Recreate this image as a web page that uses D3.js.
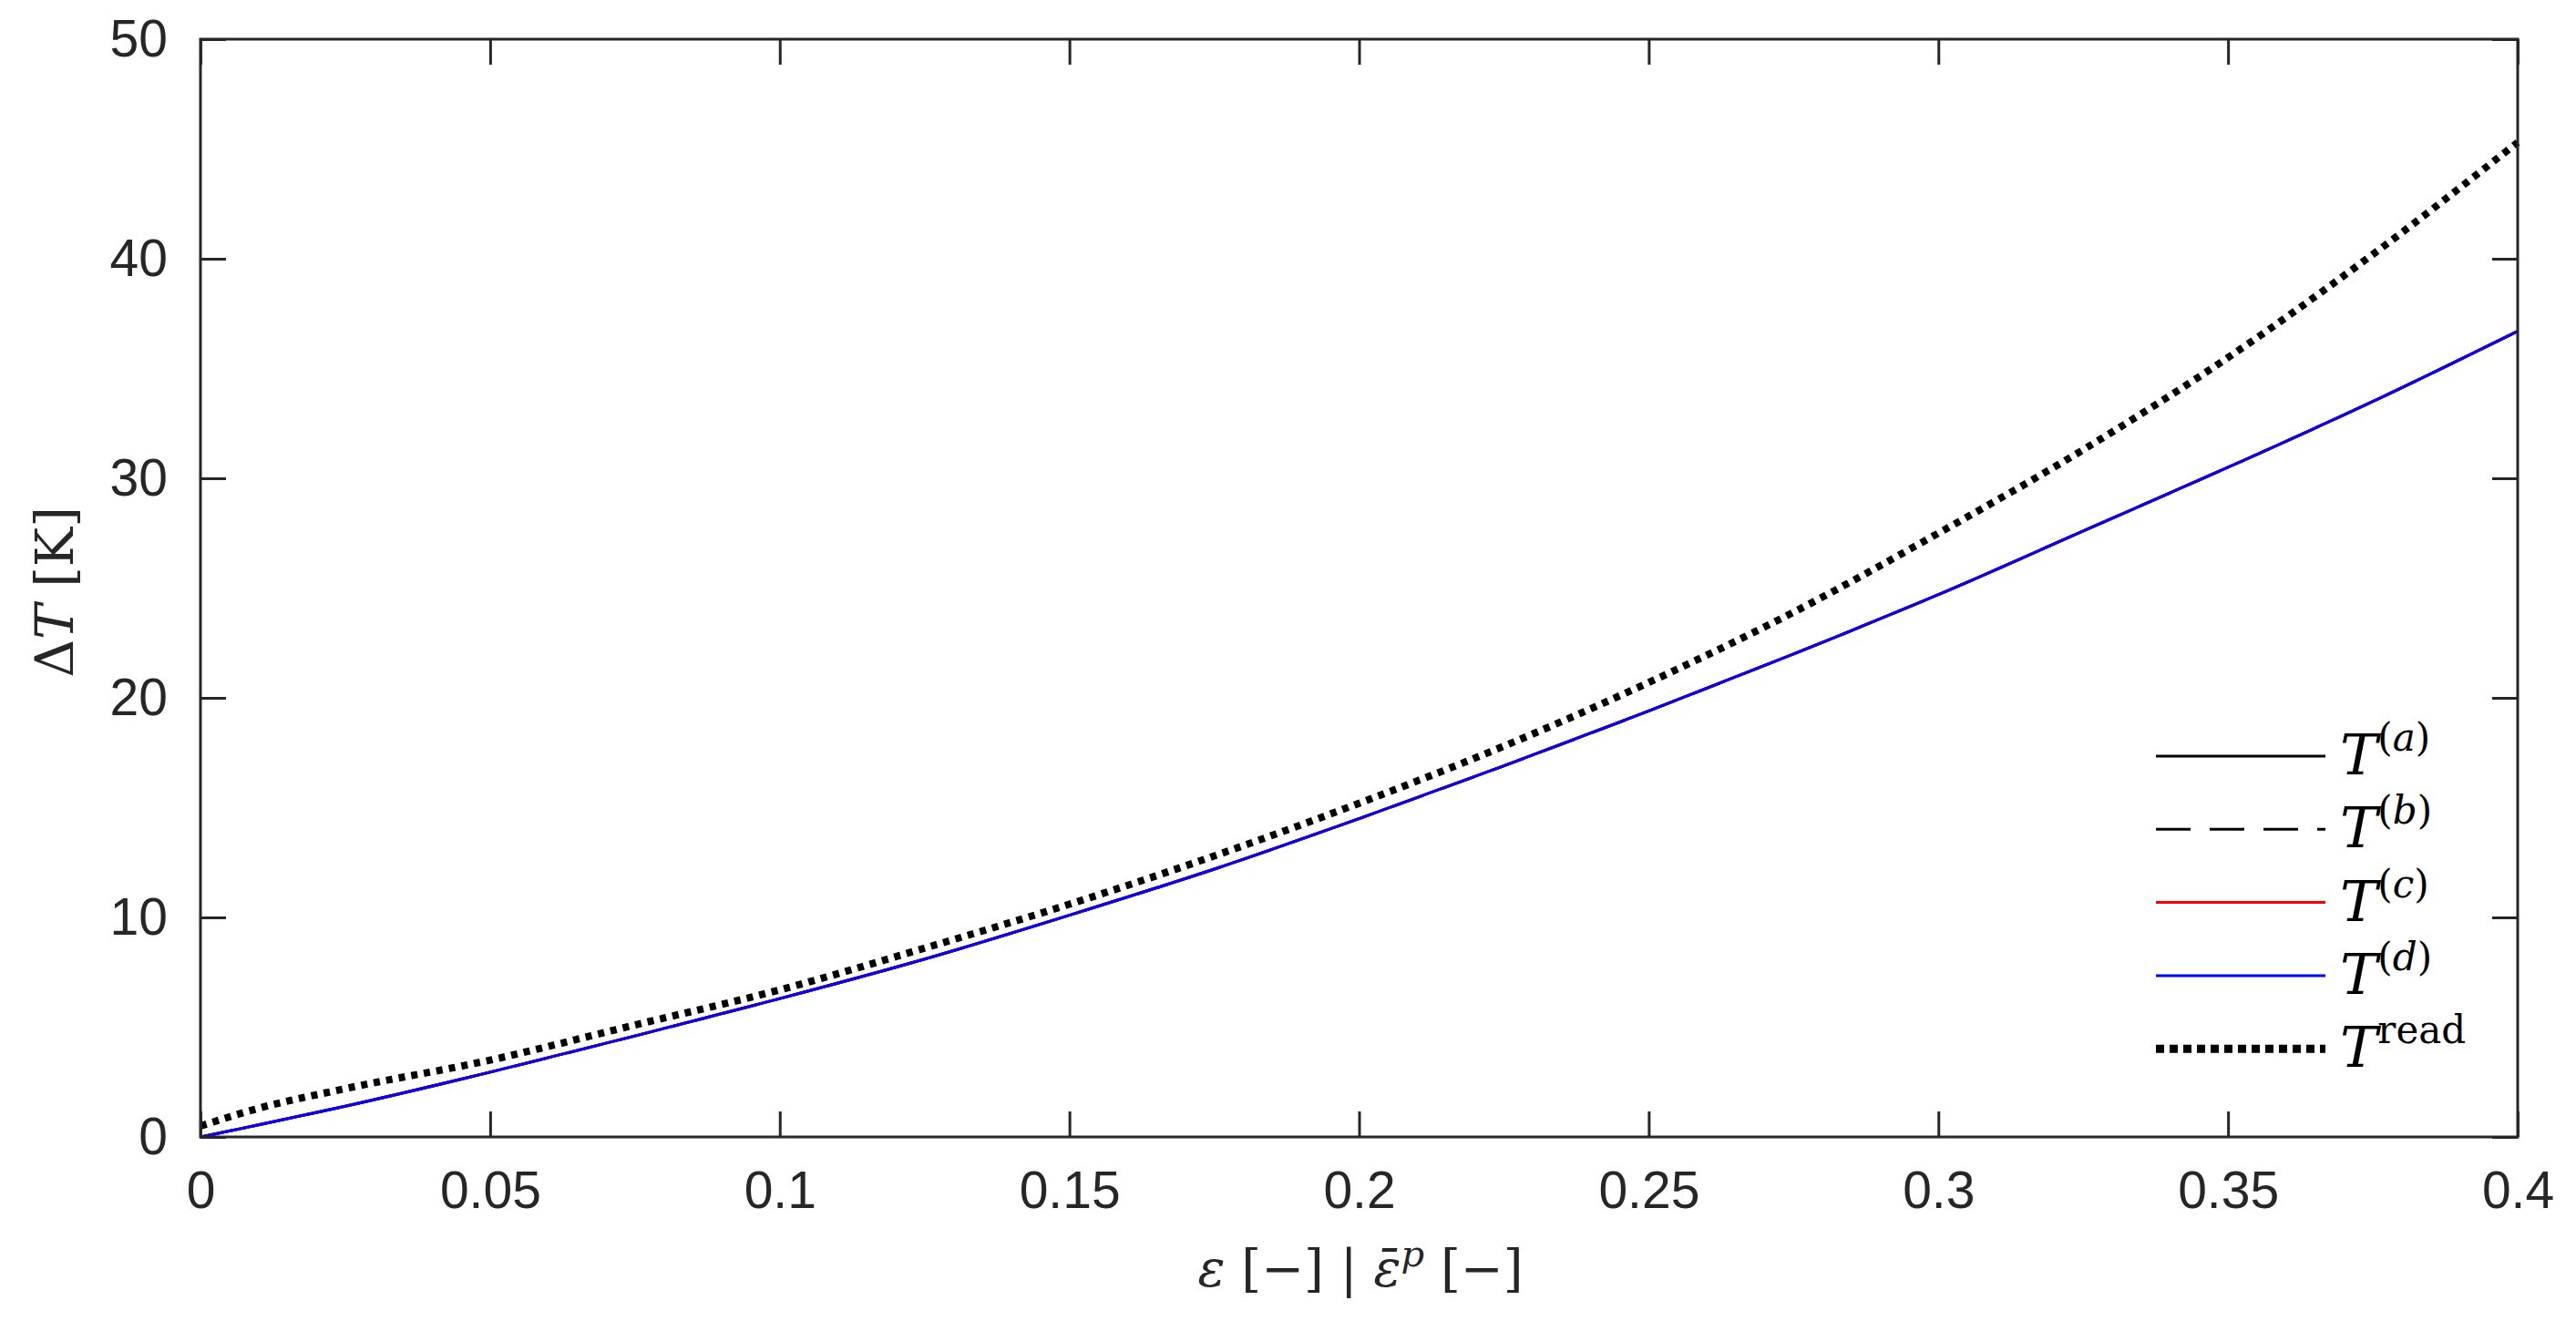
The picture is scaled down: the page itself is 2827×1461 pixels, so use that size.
<!DOCTYPE html>
<html><head><meta charset="utf-8">
<script src="https://cdn.jsdelivr.net/npm/d3@7/dist/d3.min.js"></script>
<style>body{margin:0;background:#fff}</style></head>
<body><svg id="c" width="2827" height="1461"></svg>
<script>
const strain = [0, 0.01, 0.025, 0.05, 0.075, 0.1, 0.125, 0.15, 0.175, 0.2, 0.225, 0.25, 0.275, 0.3, 0.325, 0.35, 0.375, 0.4];
const Ta = [0, 0.55, 1.4, 2.95, 4.6, 6.3, 8.1, 10.1, 12.2, 14.5, 16.9, 19.4, 22.0, 24.7, 27.6, 30.5, 33.5, 36.7];
const Tb = Ta, Tc = Ta, Td = Ta;
const Tread = [0.5, 1.3, 2.2, 3.5, 5.1, 6.7, 8.6, 10.6, 12.8, 15.2, 17.8, 20.7, 23.9, 27.5, 31.3, 35.5, 40.2, 45.3];
const xTicks = [0, 0.05, 0.1, 0.15, 0.2, 0.25, 0.3, 0.35, 0.4];
const yTicks = [0, 10, 20, 30, 40, 50];
const series = [
  {name:"a", vals:Ta, color:"#000", w:3, dash:null},
  {name:"b", vals:Tb, color:"#000", w:3, dash:"38,21"},
  {name:"c", vals:Tc, color:"#f00", w:3, dash:null},
  {name:"d", vals:Td, color:"#00f", w:3, dash:null},
  {name:"read", vals:Tread, color:"#000", w:8, dash:"7,7"}
];
const L=220,R=2763,T=43,B=1248;
const svg=d3.select("#c");
const x=d3.scaleLinear().domain([0,0.4]).range([L,R]);
const y=d3.scaleLinear().domain([0,50]).range([B,T]);
const ax="#262626", tf="Liberation Sans, Arial, sans-serif";
const line=d3.line().x((d,i)=>x(strain[i])).y(d=>y(d)).curve(d3.curveMonotoneX);
series.forEach(s=>{
  svg.append("path").attr("d",line(s.vals)).attr("fill","none").attr("stroke",s.color)
   .attr("stroke-width",s.w).attr("stroke-dasharray",s.dash);
});
function styleAxis(g){g.select(".domain").remove();g.selectAll("line").attr("stroke",ax).attr("stroke-width",3);
 g.selectAll("text").attr("fill",ax).attr("font-family",tf).attr("font-size",57);}
svg.append("g").attr("transform",`translate(0,${B})`).call(d3.axisBottom(x).tickValues(xTicks).tickSize(-28).tickPadding(38).tickFormat(d=>d3.format("")(+d.toFixed(2)))).call(styleAxis);
svg.append("g").attr("transform",`translate(0,${T})`).call(d3.axisTop(x).tickValues(xTicks).tickSize(-28).tickFormat("")).call(styleAxis);
svg.append("g").attr("transform",`translate(${L},0)`).call(d3.axisLeft(y).tickValues(yTicks).tickSize(-28).tickPadding(36)).call(styleAxis);
svg.append("g").attr("transform",`translate(${R},0)`).call(d3.axisRight(y).tickValues(yTicks).tickSize(-28).tickFormat("")).call(styleAxis);
svg.append("rect").attr("x",L).attr("y",T).attr("width",R-L).attr("height",B-T).attr("fill","none").attr("stroke",ax).attr("stroke-width",3);
// legend
const ly0=830, ldy=80.3;
series.forEach((s,i)=>{
  const yy=ly0+i*ldy;
  svg.append("line").attr("x1",2366).attr("x2",2552).attr("y1",yy).attr("y2",yy).attr("stroke",s.color)
   .attr("stroke-width",s.name==="read"?9:3).attr("stroke-dasharray",s.name==="read"?"9,6":s.dash);
  const t=svg.append("text").attr("x",2568).attr("y",yy+20).attr("font-family","DejaVu Serif, serif").attr("font-size",62).attr("fill","#000");
  t.append("tspan").attr("font-style","italic").text("T");
  if(s.name==="read") t.append("tspan").attr("dy",-26).attr("font-size",42).text("read");
  else { t.append("tspan").attr("dy",-26).attr("font-size",42).text("(");
    t.append("tspan").attr("font-size",42).attr("font-style","italic").text(s.name);
    t.append("tspan").attr("font-size",42).text(")"); }
});
// axis labels
const xl=svg.append("text").attr("x",1493).attr("y",1412).attr("text-anchor","middle").attr("font-family","DejaVu Serif, serif").attr("font-size",56).attr("fill",ax);
xl.append("tspan").attr("font-style","italic").text("ε");
xl.append("tspan").text(" [−] | ");
xl.append("tspan").attr("font-style","italic").text("ε̄");
xl.append("tspan").attr("font-style","italic").attr("font-size",40).attr("dy",-22).text("p");
xl.append("tspan").attr("dy",22).text(" [−]");
const yl=svg.append("text").attr("transform","translate(80,650) rotate(-90)").attr("text-anchor","middle").attr("font-family","DejaVu Serif, serif").attr("font-size",58).attr("fill",ax);
yl.append("tspan").text("Δ");
yl.append("tspan").attr("font-style","italic").text("T");
yl.append("tspan").text(" [K]");
</script></body></html>
